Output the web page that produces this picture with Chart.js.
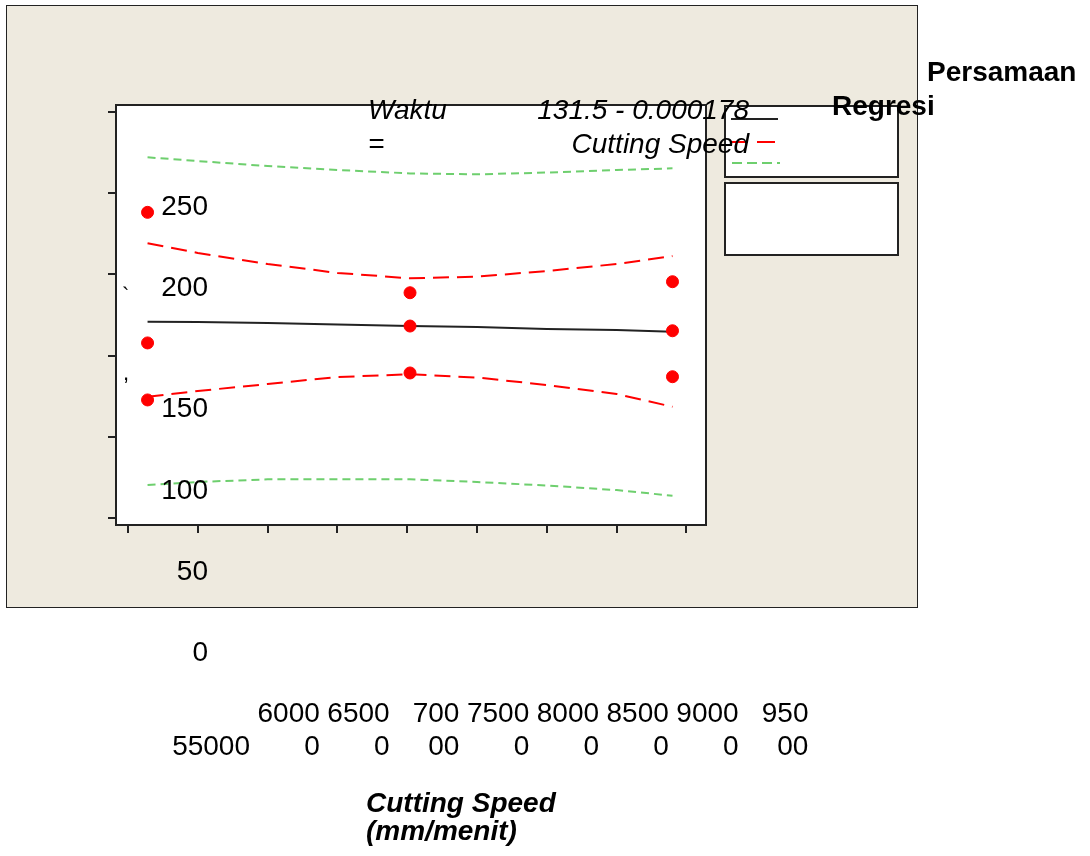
<!DOCTYPE html>
<html>
<head>
<meta charset="utf-8">
<script src="https://cdn.jsdelivr.net/npm/chart.js@4.4.1/dist/chart.umd.min.js"></script>
<style>
  body { margin: 0; width: 1090px; height: 856px; position: relative; overflow: hidden; background: #fff;
         font-family: "Liberation Sans", Arial, sans-serif; color: #000; }
  #frame { position: absolute; left: 6px; top: 5px; width: 910px; height: 601px; background: #EEEADF; border: 1px solid #222; }
  #wrap { position: absolute; left: 0; top: 0; width: 1090px; height: 856px; }
  .box { position: absolute; background: #fff; border: 2px solid #222; box-sizing: border-box; }
  .t { position: absolute; font-size: 28px; line-height: 34px; white-space: pre; }
  .xl { position: absolute; font-size: 28px; line-height: 33px; white-space: pre; text-align: right; transform: translate(-100%, -100%); }
  .yl { position: absolute; font-size: 28px; line-height: 34px; text-align: right; transform: translateX(-100%); }
  #legendLines { position: absolute; left: 0; top: 0; }
</style>
</head>
<body>
<div id="frame"></div>
<div class="box" style="left:724px; top:105px; width:175px; height:73px;"></div>
<div class="box" style="left:724px; top:182px; width:175px; height:74px;"></div>
<div id="wrap"><canvas id="fitChart"></canvas></div>
<svg id="legendLines" width="1090" height="300">
  <line x1="731" y1="119" x2="778" y2="119" stroke="#222" stroke-width="2"/>
  <line x1="730" y1="142" x2="777" y2="142" stroke="#ff0000" stroke-width="2" stroke-dasharray="18 9"/>
  <line x1="732" y1="163" x2="780" y2="163" stroke="#6ecf6e" stroke-width="2" stroke-dasharray="10 5"/>
</svg>
<div class="t" style="left:368px; top:93px; width:90px; white-space:normal; font-style:italic;">Waktu =</div>
<div class="t" style="left:514px; top:93px; width:235px; white-space:normal; text-align:right; font-style:italic;">131.5 - 0.000178 Cutting Speed</div>
<div class="t" style="left:927px; top:55px; font-weight:bold;">Persamaan</div>
<div class="t" style="left:832px; top:89px; font-weight:bold;">Regresi</div>
<div class="t" style="left:122px; top:279px; font-size:22px;">`</div>
<div class="t" style="left:123px; top:356px; font-size:22px;">,</div>
<div class="t" style="left:366px; top:789px; font-size:28px; line-height:28px; font-weight:bold; font-style:italic;">Cutting Speed
(mm/menit)</div>
<div id="tickLabels"></div>
<script>
// tick values and labels as printed on the picture
const xTicks = [55000, 60000, 65000, 70000, 75000, 80000, 85000, 90000, 95000];
const xTickLabels = ["55000", "6000\n0", "6500\n0", "700\n00", "7500\n0", "8000\n0", "8500\n0", "9000\n0", "950\n00"];
const yTicks = [0, 50, 100, 150, 200, 250];
const yTickLabels = ["0", "50", "100", "150", "200", "250"];

// observed points
const obsX = [56400, 56400, 56400, 75200, 75200, 75200, 94000, 94000, 94000];
const obsY = [188.2, 107.8, 72.7, 138.7, 118.2, 89.3, 145.5, 115.3, 87.0];

// fitted line, confidence band (red) and prediction band (green)
const curveX = [56400, 60000, 65000, 70000, 75200, 80000, 85000, 90000, 94000];
const fitY = [120.9, 120.7, 120.1, 119.2, 118.2, 117.6, 116.4, 115.8, 114.7];
const ciUpper = [169.2, 163.2, 156.4, 150.9, 147.6, 148.6, 152.1, 156.4, 161.3];
const ciLower = [74.7, 78.2, 82.5, 86.8, 88.5, 86.5, 81.9, 76.4, 68.5];
const piUpper = [222.1, 219.8, 216.7, 214.3, 212.2, 211.6, 212.7, 214.3, 215.3];
const piLower = [20.3, 22.2, 23.8, 23.8, 23.8, 22.2, 20.0, 17.2, 13.7];

const toPoints = (xs, ys) => xs.map((x, i) => ({ x: x, y: ys[i] }));

const lineSet = (ys, color, dash) => ({
    type: "line",
    data: toPoints(curveX, ys),
    borderColor: color,
    borderWidth: 2,
    borderDash: dash,
    pointRadius: 0,
    tension: 0,
    fill: false
});

// white plot area with a dark frame
const plotBox = {
    id: "plotBox",
    beforeDraw(chart) {
        const { ctx, chartArea: a } = chart;
        ctx.save();
        ctx.fillStyle = "#fff";
        ctx.fillRect(a.left, a.top, a.right - a.left, a.bottom - a.top);
        ctx.restore();
    },
    afterDraw(chart) {
        const { ctx, chartArea: a } = chart;
        ctx.save();
        ctx.strokeStyle = "#222";
        ctx.lineWidth = 2;
        ctx.strokeRect(a.left, a.top, a.right - a.left, a.bottom - a.top);
        ctx.restore();
    }
};

const tickGrid = { drawOnChartArea: false, drawTicks: true, tickLength: 8, color: "#222", lineWidth: 2 };

const chart = new Chart(document.getElementById("fitChart"), {
    data: {
        datasets: [
            { type: "scatter", data: toPoints(obsX, obsY), backgroundColor: "#ff0000", borderColor: "#ff0000", pointRadius: 6, pointHoverRadius: 6 },
            lineSet(fitY, "#222", []),
            lineSet(ciUpper, "#ff0000", [16, 8]),
            lineSet(ciLower, "#ff0000", [16, 8]),
            lineSet(piUpper, "#6ecf6e", [8, 5]),
            lineSet(piLower, "#6ecf6e", [8, 5])
        ]
    },
    options: {
        responsive: true,
        maintainAspectRatio: false,
        animation: false,
        layout: { padding: { left: 106, top: 105, right: 384, bottom: 321 } },
        scales: {
            x: {
                type: "linear", min: 54140, max: 96400,
                afterBuildTicks: s => { s.ticks = xTicks.map(v => ({ value: v })); },
                afterFit: s => { s.height = 10; },
                ticks: { display: false },
                grid: tickGrid,
                border: { display: false }
            },
            y: {
                type: "linear", min: -4.3, max: 254.3,
                afterBuildTicks: s => { s.ticks = yTicks.map(v => ({ value: v })); },
                afterFit: s => { s.width = 10; },
                ticks: { display: false },
                grid: tickGrid,
                border: { display: false }
            }
        },
        plugins: { legend: { display: false }, tooltip: { enabled: false } }
    },
    plugins: [plotBox]
});

// tick labels as text, placed the way they ended up in the picture
const holder = document.getElementById("tickLabels");
xTicks.forEach((v, i) => {
    const el = document.createElement("div");
    el.className = "xl";
    el.textContent = xTickLabels[i];
    el.style.left = (chart.scales.x.getPixelForValue(v) + 122) + "px";
    el.style.top = "762px";
    holder.appendChild(el);
});
yTicks.forEach((v, i) => {
    const el = document.createElement("div");
    el.className = "yl";
    el.textContent = yTickLabels[i];
    const baseline = chart.scales.y.getPixelForValue(v) + (v >= 200 ? 102 : 142);
    el.style.left = "208px";
    el.style.top = (baseline - 25) + "px";
    holder.appendChild(el);
});
</script>
</body>
</html>
